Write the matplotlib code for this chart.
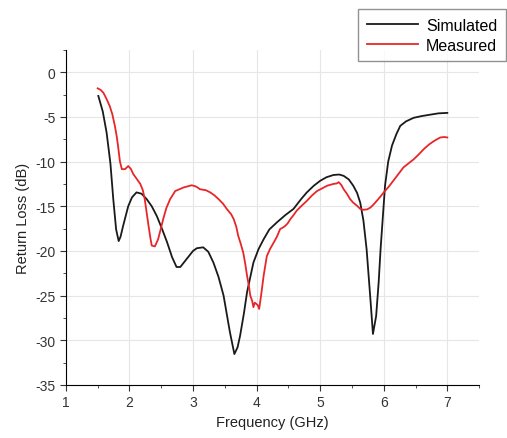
import matplotlib
matplotlib.use("Agg")
import matplotlib.pyplot as plt
from matplotlib.ticker import MultipleLocator

plt.rcParams['font.family'] = ['Liberation Sans', 'DejaVu Sans']
plt.rcParams['axes.unicode_minus'] = False

# simulated return loss
sim_f = [1.51, 1.58, 1.64, 1.70, 1.745, 1.79, 1.83, 1.86, 1.90, 1.98, 2.04, 2.11, 2.19,
         2.27, 2.35, 2.43, 2.51, 2.59, 2.67, 2.74, 2.80, 2.90, 3.00, 3.06, 3.16,
         3.24, 3.32, 3.40, 3.48, 3.58, 3.65, 3.70, 3.74, 3.80, 3.85, 3.95, 4.03,
         4.11, 4.20, 4.32, 4.45, 4.58, 4.70, 4.79, 4.90, 5.00, 5.10, 5.21, 5.30,
         5.37, 5.45, 5.52, 5.58, 5.63, 5.68, 5.73, 5.79, 5.83, 5.88, 5.92, 5.95,
         6.02, 6.07, 6.13, 6.20, 6.26, 6.35, 6.47, 6.60, 6.73, 6.86, 7.00]
sim_db = [-2.65, -4.4, -6.75, -10.2, -14.2, -17.6, -18.9, -18.4, -17.2, -15.0, -14.0,
          -13.45, -13.6, -14.2, -15.0, -16.1, -17.5, -19.0, -20.7, -21.8, -21.8,
          -20.9, -20.0, -19.7, -19.6, -20.1, -21.3, -22.9, -25.0, -29.1, -31.55,
          -30.8, -29.5, -27.0, -24.6, -21.3, -19.8, -18.7, -17.6, -16.8, -16.0,
          -15.3, -14.2, -13.45, -12.7, -12.15, -11.75, -11.5, -11.45, -11.6, -12.0,
          -12.7, -13.5, -14.6, -16.6, -19.8, -25.4, -29.3, -27.3, -23.5, -19.8,
          -12.7, -10.0, -8.2, -6.9, -6.0, -5.5, -5.1, -4.9, -4.75, -4.6, -4.55]

# measured return loss
mea_f = [1.50, 1.55, 1.59, 1.64, 1.69, 1.73, 1.77, 1.80, 1.82, 1.85, 1.88, 1.93,
         1.98, 2.02, 2.06, 2.12, 2.17, 2.21, 2.24, 2.27, 2.30, 2.33, 2.35, 2.40,
         2.45, 2.49, 2.53, 2.58, 2.64, 2.72, 2.85, 2.98, 3.05, 3.11, 3.20, 3.27,
         3.34, 3.40, 3.47, 3.53, 3.60, 3.64, 3.68, 3.71, 3.75, 3.79, 3.82, 3.85,
         3.88, 3.90, 3.93, 3.95, 3.97, 3.99, 4.02, 4.04, 4.07, 4.11, 4.16, 4.21,
         4.27, 4.32, 4.37, 4.41, 4.45, 4.49, 4.53, 4.58, 4.63, 4.70, 4.79, 4.87,
         4.95, 5.03, 5.11, 5.21, 5.26, 5.29, 5.33, 5.37, 5.42, 5.47, 5.52, 5.58,
         5.63, 5.68, 5.74, 5.79, 5.84, 5.89, 5.95, 6.00, 6.08, 6.15, 6.23, 6.31,
         6.39, 6.47, 6.55, 6.63, 6.71, 6.79, 6.85, 6.89, 6.95, 7.00]
mea_db = [-1.8, -2.0, -2.3, -3.0, -3.8, -4.7, -6.0, -7.2, -8.25, -10.0, -10.85,
          -10.85, -10.5, -10.8, -11.4, -12.0, -12.5, -13.2, -14.2, -15.7, -17.2,
          -18.6, -19.4, -19.5, -18.7, -17.6, -16.45, -15.2, -14.2, -13.3, -12.9,
          -12.65, -12.8, -13.1, -13.2, -13.45, -13.8, -14.2, -14.7, -15.3, -15.9,
          -16.45, -17.3, -18.3, -19.2, -20.2, -21.4, -22.8, -24.0, -25.0, -25.6,
          -26.3, -25.8, -25.9, -26.1, -26.5, -25.0, -22.8, -20.6, -19.8, -19.05,
          -18.4, -17.55, -17.4, -17.2, -16.9, -16.45, -16.0, -15.5, -15.0, -14.4,
          -13.8, -13.3, -13.0, -12.7, -12.5, -12.45, -12.3, -12.6, -13.1, -13.6,
          -14.2, -14.6, -14.95, -15.3, -15.4, -15.35, -15.15, -14.8, -14.4, -13.9,
          -13.45, -12.8, -12.15, -11.4, -10.65, -10.2, -9.75, -9.2, -8.6, -8.1,
          -7.7, -7.45, -7.3, -7.25, -7.3]

fig = plt.figure(figsize=(5.07, 4.39), dpi=100)
ax = fig.add_axes([0.130, 0.121, 0.815, 0.763])

ax.plot(sim_f, sim_db, color='#1a1a1a', lw=1.3, label='Simulated')
ax.plot(mea_f, mea_db, color='#e8262a', lw=1.3, label='Measured')

ax.set_xlim(1, 7.5)
ax.set_ylim(-35, 2.5)
ax.xaxis.set_major_locator(MultipleLocator(1))
ax.xaxis.set_minor_locator(MultipleLocator(0.5))
ax.yaxis.set_major_locator(MultipleLocator(5))
ax.yaxis.set_minor_locator(MultipleLocator(2.5))
ax.set_xticks([1, 2, 3, 4, 5, 6, 7])
ax.grid(True, which='major', color='#e6e6e6', lw=0.8)
ax.set_axisbelow(True)

for s in ['top', 'right']:
    ax.spines[s].set_visible(False)
ax.tick_params(which='major', direction='out', length=4, labelsize=10, colors='#333333')
ax.tick_params(which='minor', direction='out', length=2.5, colors='#333333')

ax.set_xlabel('Frequency (GHz)', fontsize=10.5, color='#222222')
ax.set_ylabel('Return Loss (dB)', fontsize=10.5, color='#222222')

leg = fig.legend(loc='upper right', bbox_to_anchor=(0.998, 0.977), borderaxespad=0,
                 fontsize=11.5, frameon=True, fancybox=False, edgecolor='#777777',
                 handlelength=3.2, borderpad=0.55, labelspacing=0.3, handletextpad=0.5)
leg.get_frame().set_linewidth(1.0)

fig.savefig('out.png', dpi=100)
